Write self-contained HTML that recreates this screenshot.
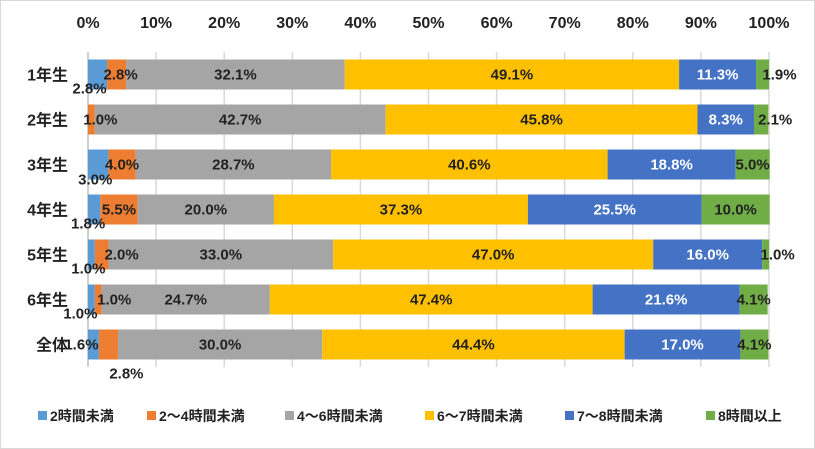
<!DOCTYPE html>
<html><head><meta charset="utf-8"><style>
body{margin:0;background:#fff;}
svg{display:block;font-family:"Liberation Sans","Noto Sans CJK JP",sans-serif;}
</style></head><body>
<svg id="c" width="815" height="449">
<rect x="0.5" y="0.5" width="814" height="448" fill="#fff" stroke="#d9d9d9"/>
</svg>
<script>
const categories=["1年生","2年生","3年生","4年生","5年生","6年生","全体"];
const seriesNames=["2時間未満","2～4時間未満","4～6時間未満","6～7時間未満","7～8時間未満","8時間以上"];
const s0=[2.8,0,3.0,1.8,1.0,1.0,1.6];
const s1=[2.8,1.0,4.0,5.5,2.0,1.0,2.8];
const s2=[32.1,42.7,28.7,20.0,33.0,24.7,30.0];
const s3=[49.1,45.8,40.6,37.3,47.0,47.4,44.4];
const s4=[11.3,8.3,18.8,25.5,16.0,21.6,17.0];
const s5=[1.9,2.1,5.0,10.0,1.0,4.1,4.1];
const ticks=[0,10,20,30,40,50,60,70,80,90,100];
const colors=["#5b9bd5","#ed7d31","#a5a5a5","#ffc000","#4472c4","#70ad47"];
const textColors=["#222","#222","#222","#222","#fff","#222"];
const nudge={"0,0":[-8,14],"0,1":[4,0],"0,5":[17,0],"1,1":[9,0],"1,5":[14,0],"2,0":[-3,15],"3,0":[-6,14],
"4,0":[-3,14],"4,1":[20,0],"4,5":[12,0],"5,0":[-11,14],"5,1":[16,0],"6,0":[-12,0],"6,1":[18,29]};
const series=[s0,s1,s2,s3,s4,s5];
const X0=88,X1=769,Y0=52,ROW=45,BH=30;
const x=v=>X0+(X1-X0)*v/100;
const yc=i=>Y0+ROW*i+ROW/2;
const svg=document.getElementById('c');
const NS="http://www.w3.org/2000/svg";
function mk(t,a){const e=document.createElementNS(NS,t);for(const k in a)e.setAttribute(k,a[k]);svg.appendChild(e);return e;}
ticks.forEach(t=>{
 const l=mk('line',{x1:x(t),x2:x(t),y1:Y0,y2:Y0+ROW*7,stroke:t===0?'#bfbfbf':'#d9d9d9','stroke-width':1.5});
 
 
 const tx=mk('text',{x:x(t),y:28,'text-anchor':'middle','font-size':16,'font-weight':'bold',fill:'#222'});
 tx.textContent=t+'%';
 
 
});
const labels=[];
categories.forEach((c,i)=>{
 const tx=mk('text',{x:68,y:yc(i)+6,'text-anchor':'end','font-size':16,'font-weight':'bold',fill:'#222'});
 tx.textContent=c;
 
 
 let acc=0;
 series.forEach((s,j)=>{
  const v=s[i];
  const r=mk('rect',{x:x(acc),y:yc(i)-BH/2,width:x(acc+v)-x(acc),height:BH,fill:colors[j]});
  
  
  if(v>0){
   const n=nudge[i+','+j]||[0,0];
   labels.push({x:(x(acc)+x(acc+v))/2+n[0],y:yc(i)+5+n[1],fill:(n[0]||n[1])?'#222':textColors[j],t:v.toFixed(1)+'%'});
  }
  acc+=v;
 });
});
labels.forEach(L=>{
 const lt=mk('text',{x:L.x,y:L.y,'text-anchor':'middle','font-size':15,'font-weight':'bold',fill:L.fill});
 lt.textContent=L.t;
 
 
});
const lx=[38,147,285,425,565,706];
seriesNames.forEach((nm,j)=>{
 const r=mk('rect',{x:lx[j],y:411,width:9,height:9,fill:colors[j]});
 
 
 const t=mk('text',{x:lx[j]+12,y:421,'font-size':14,'font-weight':'bold',fill:'#222'});
 t.textContent=nm;
 
 
});
</script>
</body></html>
